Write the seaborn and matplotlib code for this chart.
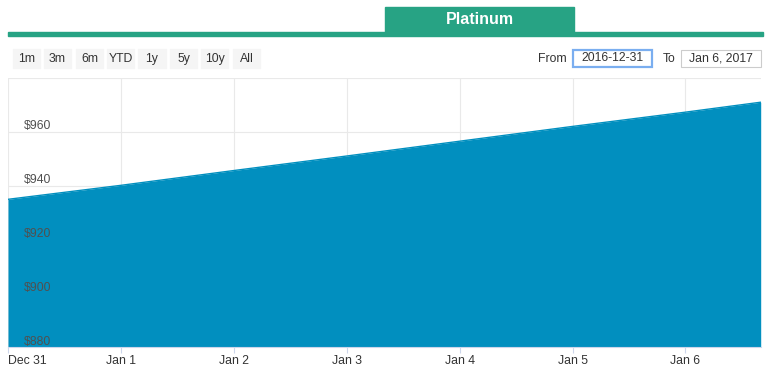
import pandas as pd
import numpy as np
import matplotlib
matplotlib.use('Agg')
import matplotlib.pyplot as plt
import matplotlib.dates as mdates
from matplotlib.patches import Rectangle
import seaborn as sns

#-----------------------------------------------
dates=['2016-12-31 00:00', '2017-01-01 00:00', '2017-01-02 00:00', '2017-01-03 00:00', '2017-01-04 00:00',
       '2017-01-05 00:00', '2017-01-06 00:00', '2017-01-06 16:00']
price=[934.9, 940.1, 945.6, 951.0, 956.5, 962.0, 967.3, 971.0]
y_ticks=[880, 900, 920, 940, 960]
x_ticks=['2016-12-31', '2017-01-01', '2017-01-02', '2017-01-03', '2017-01-04', '2017-01-05', '2017-01-06']
x_labels=['Dec 31', 'Jan 1', 'Jan 2', 'Jan 3', 'Jan 4', 'Jan 5', 'Jan 6']
buttons=['1m', '3m', '6m', 'YTD', '1y', '5y', '10y', 'All']
title='Platinum'
date_from='2016-12-31'
date_to='Jan 6, 2017'

c_fill='#018fbf'
c_green='#27a384'
c_grid='#e9e9e9'
W, H=768, 368
fs=8.8

#######################################################
sns.set_theme(style='white')
plt.rcParams['font.family']=['Liberation Sans', 'DejaVu Sans']

df=pd.DataFrame({'date':pd.to_datetime(dates, format='%Y-%m-%d %H:%M'), 'price':price})

fig=plt.figure(figsize=(W/100, H/100), dpi=100)
ax=fig.add_axes([8/W, (H-347)/H, (760.7-8)/W, (347-78)/H])

#pixel helpers (figure coords, origin top-left)
def fx(px): return px/W
def fy(py): return 1-py/H

#area
ax.fill_between(df['date'], df['price'], 880, color=c_fill, lw=0, zorder=2)
sns.lineplot(data=df, x='date', y='price', color=c_fill, lw=1, ax=ax, zorder=3)

ax.set_xlim(df['date'].iloc[0], df['date'].iloc[-1])
ax.set_ylim(880, 980)
ax.set_xlabel('')
ax.set_ylabel('')

#grid
ax.set_yticks(y_ticks+[980])
ax.set_yticklabels([])
ax.tick_params(axis='y', length=0)
xt=pd.to_datetime(x_ticks)
ax.set_xticks(xt)
ax.set_xticklabels(x_labels)
ax.grid(True, color=c_grid, lw=0.8, zorder=0)
ax.set_axisbelow(True)
ax.tick_params(axis='x', length=4, width=0.8, color='#ccd6eb', pad=1.5,
               labelsize=fs, labelcolor='#333333', bottom=True)
ax.get_xticklabels()[0].set_horizontalalignment('left')
for s in ['top', 'right', 'left']:
    ax.spines[s].set_visible(False)
ax.spines['bottom'].set_color('#ccd6eb')
ax.spines['bottom'].set_linewidth(0.8)

#y labels inside plot
for v in y_ticks:
    ax.annotate(f'${v}', xy=(0, v), xycoords=('axes fraction', 'data'),
                xytext=(16, 5.5), textcoords='offset pixels', ha='left', va='center',
                fontsize=fs, color='#505050', zorder=5)

#header tab
fig.patches.append(Rectangle((fx(385), fy(32)), fx(574)-fx(385), fy(7)-fy(32),
                             transform=fig.transFigure, color=c_green, zorder=1))
fig.patches.append(Rectangle((fx(8), fy(36)), fx(763)-fx(8), fy(32)-fy(36),
                             transform=fig.transFigure, color=c_green, zorder=1))
fig.text(fx(480), fy(19.5), title, ha='center', va='center', color='white',
         fontsize=11.5, fontweight='bold')

#range buttons
bx=[(13, 40), (44, 71), (76, 103), (107, 134), (138, 166), (170, 197), (201, 228), (233, 260)]
for (x0, x1), b in zip(bx, buttons):
    fig.patches.append(Rectangle((fx(x0), fy(68)), fx(x1)-fx(x0), fy(49)-fy(68),
                                 transform=fig.transFigure, color='#f5f5f5', zorder=1))
    fig.text(fx((x0+x1)/2), fy(59), b, ha='center', va='center', color='#333333', fontsize=fs)

#date inputs
fig.text(fx(566.5), fy(59), 'From', ha='right', va='center', color='#333333', fontsize=fs)
fig.patches.append(Rectangle((fx(572.5), fy(66.5)), fx(652)-fx(572.5), fy(49.5)-fy(66.5),
                             transform=fig.transFigure, facecolor='white', edgecolor='#7aaef0',
                             lw=1.6, zorder=1))
fig.text(fx(612), fy(58), date_from, ha='center', va='center', color='#333333', fontsize=fs)
fig.text(fx(662.5), fy(59), 'To', ha='left', va='center', color='#333333', fontsize=fs)
fig.patches.append(Rectangle((fx(681), fy(67)), fx(761)-fx(681), fy(49.5)-fy(67),
                             transform=fig.transFigure, facecolor='white', edgecolor='#cccccc',
                             lw=0.8, zorder=1))
fig.text(fx(721), fy(58.5), date_to, ha='center', va='center', color='#333333', fontsize=fs)

plt.savefig('out.png', dpi=100)
plt.close()
